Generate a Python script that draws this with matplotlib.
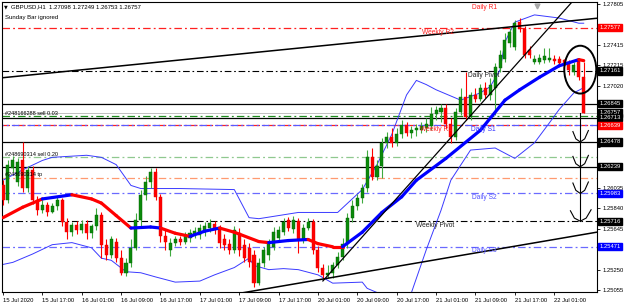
import matplotlib.pyplot as plt
import numpy as np
from matplotlib.patches import Ellipse

plt.rcParams['font.family'] = ['Liberation Sans', 'DejaVu Sans']

##############################################################################
# GBPUSD H1 bars, 15 Jul 09:00 .. 22 Jul 06:00 (bar index on the x axis)

opens = [1.2606, 1.2592, 1.2623, 1.2609, 1.2630, 1.2604, 1.2621, 1.2592, 1.2582, 1.2587,
         1.2580, 1.2586, 1.2592, 1.2571, 1.2561, 1.2568, 1.2563, 1.2569, 1.2560, 1.2567,
         1.2578, 1.2549, 1.2539, 1.2552, 1.2536, 1.2522, 1.2531, 1.2546, 1.2573, 1.2597,
         1.2609, 1.2619, 1.2595, 1.2557, 1.2544, 1.2551, 1.2554, 1.2552, 1.2555, 1.2559,
         1.2558, 1.2562, 1.2565, 1.2569, 1.2565, 1.2554, 1.2550, 1.2544, 1.2560, 1.2549,
         1.2546, 1.2539, 1.2512, 1.2531, 1.2539, 1.2547, 1.2555, 1.2561, 1.2573, 1.2564,
         1.2572, 1.2554, 1.2565, 1.2571, 1.2544, 1.2527, 1.2520, 1.2522, 1.2529, 1.2537,
         1.2550, 1.2575, 1.2586, 1.2594, 1.2604, 1.2633, 1.2614, 1.2625, 1.2647, 1.2653,
         1.2647, 1.2655, 1.2664, 1.2656, 1.2659, 1.2659, 1.2661, 1.2663, 1.2675, 1.2677,
         1.2680, 1.2665, 1.2653, 1.2677, 1.2691, 1.2672, 1.2693, 1.2689, 1.2700, 1.2693,
         1.2700, 1.2719, 1.2728, 1.2743, 1.2739, 1.2763, 1.2756, 1.2736, 1.2725, 1.2725,
         1.2727, 1.2727, 1.2728, 1.2728, 1.2727, 1.2725, 1.2715, 1.2727, 1.27098]
highs = [1.2611, 1.2630, 1.2634, 1.2632, 1.2648, 1.2625, 1.2625, 1.2596, 1.2592, 1.2590,
         1.2589, 1.2595, 1.2594, 1.2575, 1.2571, 1.2572, 1.2573, 1.2573, 1.2569, 1.2584,
         1.2580, 1.2554, 1.2557, 1.2555, 1.2544, 1.2536, 1.2554, 1.2579, 1.2602, 1.2615,
         1.2623, 1.2623, 1.2598, 1.2563, 1.2555, 1.2557, 1.2557, 1.2561, 1.2564, 1.2566,
         1.2569, 1.2571, 1.2574, 1.2572, 1.2568, 1.2559, 1.2554, 1.2567, 1.2565, 1.2554,
         1.2551, 1.2544, 1.2536, 1.2547, 1.2554, 1.2566, 1.2567, 1.2575, 1.2576, 1.2577,
         1.2575, 1.2569, 1.2575, 1.2574, 1.2548, 1.2530, 1.2529, 1.2532, 1.2542, 1.2555,
         1.2579, 1.2592, 1.2598, 1.2607, 1.2640, 1.2642, 1.2630, 1.2652, 1.2657, 1.2661,
         1.2661, 1.2669, 1.2667, 1.2663, 1.2665, 1.2667, 1.2671, 1.2681, 1.2682, 1.2684,
         1.2684, 1.2671, 1.2680, 1.2700, 1.2715, 1.2696, 1.2700, 1.2704, 1.2705, 1.2709,
         1.2724, 1.2736, 1.2753, 1.2757, 1.2765, 1.2767, 1.2759, 1.2740, 1.2731, 1.2732,
         1.2738, 1.2738, 1.2731, 1.2730, 1.2728, 1.2727, 1.2725, 1.2728, 1.27249]
lows = [1.2587, 1.2589, 1.2619, 1.2605, 1.2600, 1.2600, 1.2588, 1.2578, 1.2579, 1.2577,
        1.2579, 1.2582, 1.2567, 1.2554, 1.2557, 1.2559, 1.2560, 1.2554, 1.2555, 1.2563,
        1.2536, 1.2534, 1.2536, 1.2532, 1.2520, 1.2519, 1.2528, 1.2544, 1.2567, 1.2592,
        1.2604, 1.2592, 1.2552, 1.2544, 1.2538, 1.2548, 1.2549, 1.2550, 1.2552, 1.2555,
        1.2554, 1.2557, 1.2561, 1.2559, 1.2546, 1.2544, 1.2540, 1.2541, 1.2538, 1.2532,
        1.2528, 1.2508, 1.2510, 1.2528, 1.2534, 1.2544, 1.2552, 1.2558, 1.2562, 1.2560,
        1.2541, 1.2551, 1.2563, 1.2540, 1.2523, 1.2516, 1.2517, 1.2517, 1.2527, 1.2534,
        1.2546, 1.2571, 1.2582, 1.2589, 1.2600, 1.2611, 1.2611, 1.2613, 1.2642, 1.2643,
        1.2644, 1.2652, 1.2654, 1.2652, 1.2654, 1.2656, 1.2657, 1.2659, 1.2669, 1.2667,
        1.2661, 1.2647, 1.2650, 1.2674, 1.2669, 1.2669, 1.2686, 1.2687, 1.2690, 1.2688,
        1.2674, 1.2715, 1.2725, 1.2739, 1.2736, 1.2754, 1.2729, 1.2729, 1.2723, 1.2723,
        1.2724, 1.2725, 1.2723, 1.2721, 1.2719, 1.2712, 1.2712, 1.2707, 1.26753]
closes = [1.2592, 1.2626, 1.2630, 1.2629, 1.2604, 1.2621, 1.2592, 1.2582, 1.2587, 1.2580,
          1.2586, 1.2592, 1.2571, 1.2561, 1.2568, 1.2563, 1.2569, 1.2560, 1.2567, 1.2578,
          1.2549, 1.2539, 1.2554, 1.2536, 1.2522, 1.2531, 1.2546, 1.2573, 1.2597, 1.2609,
          1.2619, 1.2595, 1.2557, 1.2552, 1.2551, 1.2554, 1.2552, 1.2557, 1.2560, 1.2562,
          1.2565, 1.2567, 1.2570, 1.2563, 1.2551, 1.2549, 1.2544, 1.2563, 1.2544, 1.2536,
          1.2532, 1.2512, 1.2531, 1.2544, 1.2551, 1.2561, 1.2563, 1.2571, 1.2565, 1.2573,
          1.2554, 1.2565, 1.2571, 1.2544, 1.2527, 1.2520, 1.2522, 1.2529, 1.2537, 1.2550,
          1.2575, 1.2586, 1.2594, 1.2604, 1.2633, 1.2614, 1.2625, 1.2647, 1.2653, 1.2647,
          1.2655, 1.2664, 1.2656, 1.2659, 1.2661, 1.2663, 1.2665, 1.2675, 1.2679, 1.2680,
          1.2665, 1.2653, 1.2677, 1.2691, 1.2672, 1.2693, 1.2689, 1.2700, 1.2693, 1.2703,
          1.2720, 1.2731, 1.2746, 1.2754, 1.2762, 1.2756, 1.2731, 1.2731, 1.2728, 1.2729,
          1.2730, 1.2729, 1.2726, 1.2724, 1.2722, 1.2717, 1.2722, 1.27098, 1.26757]

# coloured moving average (red = falling, blue = rising)
ma_idx = [0, 4, 8, 14, 18, 20, 23, 26, 30, 32, 35, 38, 41, 44, 47, 52, 54, 58, 62, 64,
          67, 69, 73, 77, 81, 84, 90, 97, 102, 105, 109, 113, 117, 118]
ma_val = [1.2575, 1.2585, 1.2593, 1.2597, 1.2593, 1.2589, 1.2577, 1.2565, 1.2566, 1.2565,
          1.2560, 1.2557, 1.2562, 1.2565, 1.2561, 1.2552, 1.2551, 1.2553, 1.2554, 1.2550,
          1.2547, 1.2547, 1.2561, 1.2580, 1.2595, 1.2611, 1.2632, 1.2659, 1.2688, 1.2698,
          1.2710, 1.2721, 1.2727, 1.2726]
ma_trend = ['dn', 'dn', 'up', 'dn', 'dn', 'dn', 'dn', 'up', 'up', 'dn', 'dn', 'up', 'up',
            'dn', 'dn', 'dn', 'up', 'up', 'dn', 'dn', 'dn', 'up', 'up', 'up', 'up', 'up',
            'up', 'up', 'up', 'up', 'up', 'up', 'dn']

# Bollinger bands
bb_up_idx = [0, 4, 8, 10, 17, 20, 23, 26, 28, 36, 47, 50, 52, 60, 68, 73, 76, 79, 82, 84,
             86, 88, 93, 97, 99, 101, 102, 104, 108, 113, 117, 118]
bb_up_val = [1.2611, 1.2621, 1.2630, 1.2633, 1.2635, 1.2633, 1.2626, 1.2606, 1.2603, 1.2603,
             1.2602, 1.2575, 1.2574, 1.2580, 1.2580, 1.2602, 1.2626, 1.2655, 1.2693, 1.2707,
             1.2703, 1.2698, 1.2688, 1.2695, 1.2701, 1.2717, 1.2744, 1.2763, 1.2770, 1.2767,
             1.2762, 1.2762]
bb_lo_idx = [0, 2, 6, 10, 14, 18, 20, 22, 25, 28, 31, 35, 40, 43, 47, 50, 51, 54, 57, 60,
             64, 67, 73, 74, 76, 80, 83, 86, 89, 91, 95, 100, 104, 108, 111, 113, 116, 118]
bb_lo_val = [1.2530, 1.2532, 1.2540, 1.2549, 1.2551, 1.2546, 1.2536, 1.2534, 1.2523, 1.2522,
             1.2518, 1.2513, 1.2514, 1.2520, 1.2527, 1.2536, 1.2529, 1.2525, 1.2526, 1.2525,
             1.2520, 1.2512, 1.2513, 1.2507, 1.2503, 1.2491, 1.2503, 1.2544, 1.2582, 1.2611,
             1.2640, 1.2642, 1.2632, 1.2647, 1.2666, 1.2679, 1.2695, 1.2700]

# trend lines: two anchor points each (bar index, price)
top_line = [(0, 1.27096), (118, 1.27655)]
bottom_line = [(60, 1.25119), (110, 1.25524)]
steep_line = [(65, 1.25141), (110, 1.27526)]

# pivot levels
weekly_r2 = 1.27577
daily_r1 = 1.27815
daily_pivot = 1.27161
weekly_r1 = 1.26639
daily_s1 = 1.26639
daily_s2 = 1.25983
weekly_pivot = 1.25716
daily_s3 = 1.25471
support_lines = [1.26845, 1.26713, 1.26478, 1.26239]

# open orders
order_levels = [1.26728, 1.26333, 1.26136]
order_labels = ["#248166288 sell 0.03", "#248690314 sell 0.20", "#248690314 tp"]
order_colors = ["#1e8c1e", "#8fc88f", "#ff9a70"]

tick_idx = list(range(0, 113, 8))
tick_labels = ["15 Jul 2020", "15 Jul 17:00", "16 Jul 01:00", "16 Jul 09:00", "16 Jul 17:00",
               "17 Jul 01:00", "17 Jul 09:00", "17 Jul 17:00", "20 Jul 01:00", "20 Jul 09:00",
               "20 Jul 17:00", "21 Jul 01:00", "21 Jul 09:00", "21 Jul 17:00", "22 Jul 01:00"]
price_ticks = [1.27805, 1.27610, 1.27415, 1.27215, 1.27020, 1.26825, 1.26625, 1.26430,
               1.26235, 1.26035, 1.25840, 1.25645, 1.25450, 1.25250, 1.25055]

##############################################################################

fig = plt.figure(figsize=(6.25, 3.07), dpi=100)
ax = fig.add_axes([2 / 625, 15 / 307, 595 / 625, 290 / 307])
ax.set_xlim(-0.2, 120.7)
ax.set_ylim(1.25035, 1.27824)
for s in ax.spines.values():
    s.set_linewidth(0.8)
    s.set_color('black')

dashdot = (0, (6, 2.5, 1.5, 2.5))

# horizontal objects
ax.axhline(weekly_r2, color='#ff2020', lw=0.9, ls=dashdot, zorder=1)
ax.axhline(daily_pivot, color='black', lw=0.8, ls=dashdot, zorder=1)
ax.axhline(weekly_r1, color='#ff2020', lw=0.9, ls=dashdot, zorder=1)
ax.axhline(daily_s1, color='#5a5aff', lw=0.9, ls=(5, (6, 2.5, 1.5, 2.5)), zorder=1)
ax.axhline(daily_s2, color='#6a6aff', lw=0.9, ls=dashdot, zorder=1)
ax.axhline(weekly_pivot, color='black', lw=0.8, ls=dashdot, zorder=1)
ax.axhline(daily_s3, color='#6a6aff', lw=0.9, ls=dashdot, zorder=1)
for lvl in support_lines:
    ax.axhline(lvl, color='black', lw=0.9, zorder=1)
ax.axhline(closes[-1], color='#c0c0c0', lw=0.7, zorder=1)
for lvl, lab, col in zip(order_levels, order_labels, order_colors):
    ax.axhline(lvl, color=col, lw=0.9, ls=dashdot, zorder=1)
    ax.text(0.4, lvl + 0.00004, lab, fontsize=4, color='black', va='bottom', ha='left', zorder=6)

level_text = [(95.3, daily_r1, "Daily R1", '#ff2020'),
              (85.2, weekly_r2, "Weekly R2", '#ff2020'),
              (94.5, daily_pivot, "Daily Pivot", '#202020'),
              (84.8, weekly_r1, "Weekly R1", '#ff2020'),
              (95.0, daily_s1, "Daily S1", '#3030ff'),
              (95.3, daily_s2, "Daily S2", '#5050ff'),
              (84.0, weekly_pivot, "Weekly Pivot", '#202020'),
              (95.3, daily_s3, "Daily S3", '#5050ff')]
for xi, lvl, lab, col in level_text:
    ax.text(xi, lvl - 0.00008, lab, fontsize=4.8, color=col, va='top', ha='left', zorder=6)

# trend lines
xx = np.array(ax.get_xlim())
for (x0, y0), (x1, y1) in [top_line, bottom_line]:
    k = (y1 - y0) / (x1 - x0)
    ax.plot(xx, y0 + k * (xx - x0), color='black', lw=1.1, zorder=5)
(x0, y0), (x1, y1) = steep_line
k = (y1 - y0) / (x1 - x0)
xs = np.array([x0, xx[1]])
ax.plot(xs, y0 + k * (xs - x0), color='black', lw=0.9, zorder=5)

# Bollinger bands
ax.plot(bb_up_idx, bb_up_val, color='#3a3aff', lw=0.7, zorder=2)
ax.plot(bb_lo_idx, bb_lo_val, color='#3a3aff', lw=0.7, zorder=2)

# candles
idx = np.arange(len(closes))
o, h, l, c = (np.array(a) for a in (opens, highs, lows, closes))
up = c >= o
ax.vlines(idx, l, h, colors=np.where(up, '#3faa3f', '#ff0000'), lw=0.8, zorder=3)
ax.bar(idx, np.maximum(np.abs(c - o), 0.00004), bottom=np.minimum(o, c), width=0.62,
       color=np.where(up, '#0a8a0a', '#ff0000'), edgecolor=np.where(up, '#056005', '#e00000'),
       lw=0.3, zorder=4)

# moving average
for j in range(len(ma_idx) - 1):
    ax.plot(ma_idx[j:j + 2], ma_val[j:j + 2], color='#0000ff' if ma_trend[j] == 'up' else '#ff0000',
            lw=2.3, solid_capstyle='round', zorder=4.5)

# hand drawn annotations: circle round the last bars, arrows down to the levels
last = len(closes) - 1
ax.add_patch(Ellipse((last - 0.7, (highs[-1] + opens[-1]) / 2), width=6.5, height=0.0046,
                     fill=False, ec='black', lw=1.4, zorder=7))
ax_x = last - 0.7
targets = [support_lines[2], support_lines[3], daily_s2, weekly_pivot]
ax.plot([ax_x, ax_x], [closes[-1], weekly_pivot], color='black', lw=0.8, zorder=7)
for n, lvl in enumerate(targets):
    w = 2.0 if n == len(targets) - 1 else 1.5
    hx = ax_x + np.array([-w, -0.6 * w, 0, 0.6 * w, 1.1 * w])
    hy = lvl + np.array([0.0010, 0.0003, 0, 0.0003, 0.0011])
    ax.plot(hx, hy, color='black', lw=0.8, zorder=7)
ax.plot(108.5, 1.27790, marker='v', color='#a8a8a8', ms=3.5, zorder=7, clip_on=False)

# price boxes on the right scale
boxes = [(weekly_r2, '#ff0000'), (daily_pivot, 'black'), (support_lines[0], 'black'),
         (closes[-1], 'black'), (support_lines[1], 'black'), (weekly_r1, '#ff0000'),
         (support_lines[2], 'black'), (support_lines[3], 'black'), (daily_s2, '#0000ff'),
         (weekly_pivot, 'black'), (daily_s3, '#0000ff')]

# axes
ax.set_xticks(tick_idx)
ax.set_xticklabels(tick_labels, ha='left', fontsize=4.2)
ax.tick_params(axis='x', length=2.5, width=0.6, pad=1.5)
ax.yaxis.tick_right()
ax.set_yticks(price_ticks)
# scale labels that sit under a price box are hidden, as in the terminal
box_vals = [b[0] for b in boxes]
ax.set_yticklabels(["" if min(abs(v - b) for b in box_vals) < 0.0005 else f"{v:.5f}"
                    for v in price_ticks], fontsize=4.2)
ax.tick_params(axis='y', length=2.5, width=0.6, pad=1.5)

for val, col in boxes:
    ax.annotate(f"{val:.5f}", xy=(1, val), xycoords=('axes fraction', 'data'),
                xytext=(1.6, 0), textcoords='offset points', ha='left', va='center',
                fontsize=4.2, color='white', annotation_clip=False, zorder=10,
                bbox=dict(boxstyle='square,pad=0.2', fc=col, ec=col))

fig.text(4 / 625, 1 - 7 / 307, "\u25bc", fontsize=3.5, va='center', family='DejaVu Sans')
fig.text(11 / 625, 1 - 7 / 307,
         f"GBPUSD,H1  {opens[-1]:.5f} {highs[-1]:.5f} {lows[-1]:.5f} {closes[-1]:.5f}",
         fontsize=4.3, va='center')
fig.text(5 / 625, 1 - 17 / 307, "Sunday Bar ignored", fontsize=4.3, va='center')

fig.savefig('out.png', dpi=100)
